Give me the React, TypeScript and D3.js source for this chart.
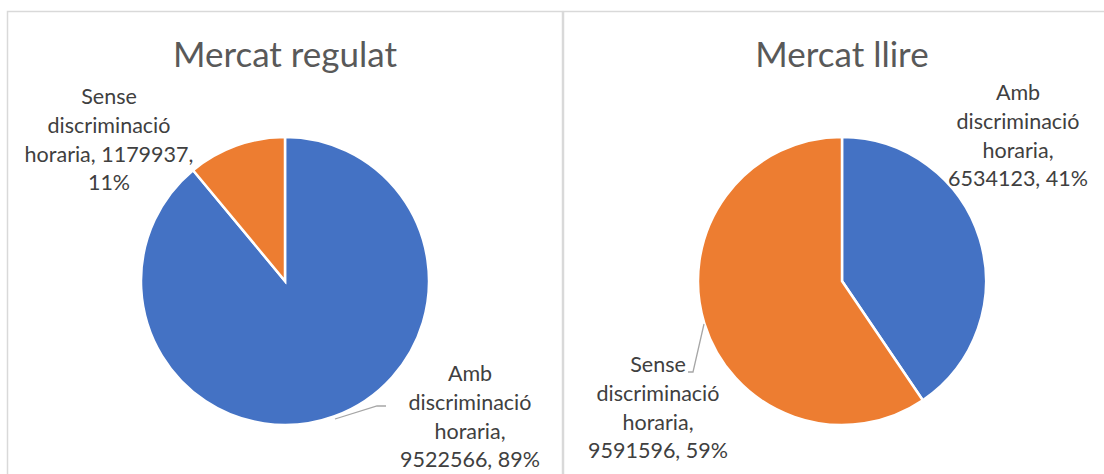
import React from "react";
import * as d3 from "d3";

const categories = ["Amb discriminació horaria", "Sense discriminació horaria"];
const regulatValues = [9522566, 1179937];
const lliureValues = [6534123, 9591596];
const titles = ["Mercat regulat", "Mercat llire"];
const regulatLabels = [
  ["Amb", "discriminació", "horaria,", "9522566, 89%"],
  ["Sense", "discriminació", "horaria, 1179937,", "11%"],
];
const lliureLabels = [
  ["Amb", "discriminació", "horaria,", "6534123, 41%"],
  ["Sense", "discriminació", "horaria,", "9591596, 59%"],
];
const colors = ["#4472C4", "#ED7D31"];

const W = 1104;
const H = 474;
const R = 144;
const FONT = "Lato, 'Noto Sans', sans-serif";

type PanelProps = {
  x0: number;
  width: number;
  cx: number;
  cy: number;
  title: string;
  values: number[];
  labels: string[][];
  labelPos: { x: number; y: number }[];
  leaders: ([number, number][] | null)[];
};

function Panel({ x0, width, cx, cy, title, values, labels, labelPos, leaders }: PanelProps) {
  const pie = d3.pie<number>().sort(null).value((d) => d);
  const arcs = pie(values);
  const arc = d3.arc<d3.PieArcDatum<number>>().innerRadius(0).outerRadius(R);
  const line = d3.line();
  return (
    <g>
      <rect x={x0} y={11.5} width={width} height={H} fill="#fff" stroke="#d9d9d9" strokeWidth={1.5} />
      <text x={cx} y={67} textAnchor="middle" fontFamily={FONT} fontSize={35} fill="#595959">
        {title}
      </text>
      <g transform={`translate(${cx},${cy})`}>
        {arcs.map((a, i) => (
          <path key={categories[i]} d={arc(a) || ""} fill={colors[i]} stroke="#fff" strokeWidth={2.5} />
        ))}
      </g>
      {leaders.map((pts, i) =>
        pts ? <path key={i} d={line(pts) || ""} fill="none" stroke="#a6a6a6" strokeWidth={1.3} /> : null
      )}
      {labels.map((lines, i) => (
        <text key={i} textAnchor="middle" fontFamily={FONT} fontSize={21.5} fill="#404040">
          {lines.map((l, j) => (
            <tspan key={j} x={labelPos[i].x} y={labelPos[i].y + j * 28.8}>
              {l}
            </tspan>
          ))}
        </text>
      ))}
    </g>
  );
}

export default function App() {
  return (
    <svg width={W} height={H} style={{ position: "absolute", left: 0, top: 0 }}>
      <rect width={W} height={H} fill="#fff" />
      <Panel
        x0={7.5}
        width={555}
        cx={285}
        cy={281}
        title={titles[0]}
        values={regulatValues}
        labels={regulatLabels}
        labelPos={[
          { x: 470, y: 381 },
          { x: 109, y: 104 },
        ]}
        leaders={[
          [
            [335, 419],
            [377, 406],
            [386, 406],
          ],
          null,
        ]}
      />
      <Panel
        x0={563.5}
        width={560}
        cx={842}
        cy={281}
        title={titles[1]}
        values={lliureValues}
        labels={lliureLabels}
        labelPos={[
          { x: 1018, y: 100 },
          { x: 658, y: 372 },
        ]}
        leaders={[
          null,
          [
            [704, 324],
            [693, 372],
            [688, 372],
          ],
        ]}
      />
    </svg>
  );
}
